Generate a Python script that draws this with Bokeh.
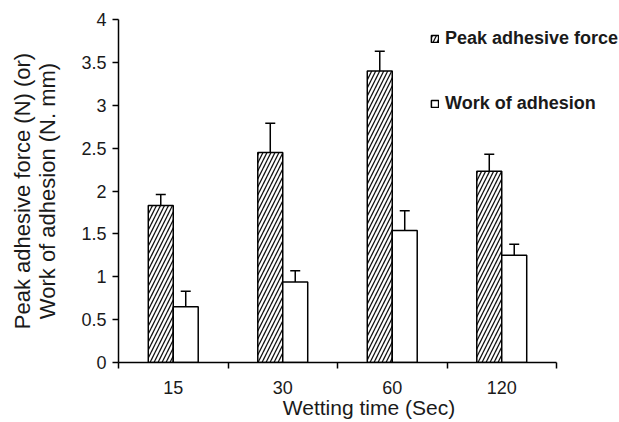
import numpy as np
from bokeh.plotting import figure
from bokeh.models import (Range1d, FixedTicker, CustomJSTickFormatter, ColumnDataSource,
                          Whisker, TeeHead, Legend, LegendItem)
from bokeh.embed import file_html
from bokeh.resources import INLINE

# ---- data ----
wetting_times = ["15", "30", "60", "120"]
peak_force = [1.83, 2.45, 3.40, 2.23]
peak_force_err = [0.13, 0.34, 0.23, 0.20]
work_adhesion = [0.65, 0.94, 1.54, 1.25]
work_adhesion_err = [0.18, 0.13, 0.23, 0.13]
y_ticks = [0, 0.5, 1, 1.5, 2, 2.5, 3, 3.5, 4]

FONT = "Liberation Sans"
TXT = "#1a1a1a"

n = len(wetting_times)
centers = np.arange(n) + 0.5
bar_w = 0.228
# frame spans to the right edge (for the legend); axis spans 438 px of 501 px
x_end = n * 501.0 / 438.0

src_peak = ColumnDataSource(dict(
    x=centers - bar_w / 2, top=peak_force,
    up=np.array(peak_force) + np.array(peak_force_err)))
src_work = ColumnDataSource(dict(
    x=centers + bar_w / 2, top=work_adhesion,
    up=np.array(work_adhesion) + np.array(work_adhesion_err)))

p = figure(width=619, height=422, output_backend="svg", toolbar_location=None,
           x_range=Range1d(0, x_end), y_range=Range1d(0, 4),
           min_border_left=118, min_border_right=0, min_border_top=19,
           min_border_bottom=60)
p.outline_line_color = None
p.grid.visible = False
p.background_fill_color = "white"
p.border_fill_color = "white"

r_peak = p.vbar(x="x", top="top", width=bar_w, bottom=0, source=src_peak,
                fill_color="white", line_color="black", line_width=1.5,
                hatch_pattern="/", hatch_color="#111111", hatch_weight=1.3,
                hatch_scale=8)
r_work = p.vbar(x="x", top="top", width=bar_w, bottom=0, source=src_work,
                fill_color="white", line_color="black", line_width=1.5)

for src in (src_peak, src_work):
    w = Whisker(base="x", lower="top", upper="up", source=src, dimension="height",
                line_color="black", line_width=1.5, lower_head=None,
                upper_head=TeeHead(size=10, line_color="black", line_width=1.5))
    p.add_layout(w)

# y axis
ya = p.yaxis[0]
ya.ticker = FixedTicker(ticks=y_ticks)
ya.formatter = CustomJSTickFormatter(code="return tick.toString()")
ya.axis_label = "Peak adhesive force (N) (or)\nWork of adhesion (N. mm)"
ya.axis_label_text_font = FONT
ya.axis_label_text_font_size = "22px"
ya.axis_label_text_font_style = "normal"
ya.axis_label_text_color = TXT
ya.axis_label_text_line_height = 1.0
ya.axis_label_standoff = 18
ya.major_label_text_font = FONT
ya.major_label_text_font_size = "18px"
ya.major_label_text_color = TXT
ya.major_label_standoff = 6
ya.major_tick_in = 0
ya.major_tick_out = 6
ya.major_tick_line_color = "black"
ya.major_tick_line_width = 1.5
ya.minor_tick_line_color = None
ya.axis_line_color = "black"
ya.axis_line_width = 1.5

# x axis: labels at category centres, tick marks at category boundaries
xa = p.xaxis[0]
xa.bounds = (0, n)
xa.ticker = FixedTicker(ticks=list(centers), minor_ticks=list(range(n + 1)))
xa.formatter = CustomJSTickFormatter(args=dict(labels=wetting_times),
                                     code="return labels[Math.floor(tick)]")
xa.axis_label = "Wetting time (Sec)"
xa.axis_label_text_font = FONT
xa.axis_label_text_font_size = "21px"
xa.axis_label_text_font_style = "normal"
xa.axis_label_text_color = TXT
xa.axis_label_standoff = -1
xa.major_label_text_font = FONT
xa.major_label_text_font_size = "18px"
xa.major_label_text_color = TXT
xa.major_label_standoff = 12
xa.major_tick_line_color = None
xa.major_tick_in = 0
xa.major_tick_out = 6
xa.minor_tick_in = 0
xa.minor_tick_out = 6
xa.minor_tick_line_color = "black"
xa.minor_tick_line_width = 1.5
xa.axis_line_color = "black"
xa.axis_line_width = 1.5

legend = Legend(items=[LegendItem(label="Peak adhesive force", renderers=[r_peak]),
                       LegendItem(label="Work of adhesion", renderers=[r_work])],
                location=(312, 248), orientation="vertical",
                glyph_width=9, glyph_height=9, label_standoff=6,
                label_height=20, spacing=44, padding=0, margin=0,
                border_line_alpha=0, background_fill_alpha=0,
                label_text_font=FONT, label_text_font_size="18px",
                label_text_font_style="bold", label_text_color=TXT)
p.add_layout(legend)

open("out.html", "w").write(file_html(p, INLINE))
